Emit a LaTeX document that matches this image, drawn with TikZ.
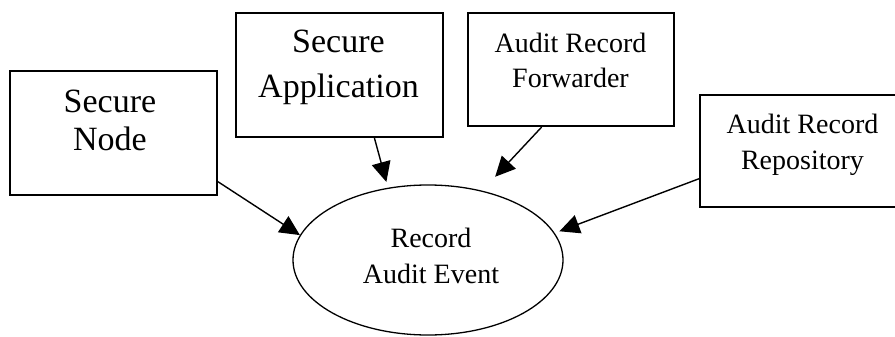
\documentclass[tikz,border=0pt]{standalone}
\usepackage{fontspec}
\newfontfamily\diagfont{Liberation Serif}
\usetikzlibrary{arrows.meta,shapes.geometric}
\begin{document}
\begin{tikzpicture}[x=1pt,y=-1pt,
  boxnode/.style={draw, line width=2pt, inner sep=0pt},
  bigtext/.style={align=center, inner sep=0pt, font=\diagfont\fontsize{34pt}{38pt}\selectfont},
  smalltext/.style={align=center, inner sep=0pt, font=\diagfont\fontsize{28pt}{35pt}\selectfont},
  conn/.style={line width=1.4pt, -{Triangle[length=20pt,width=19pt]}}]
\useasboundingbox (0,0) rectangle (895,337);
% boxes
\node[boxnode, minimum width=207pt, minimum height=124pt] (sn) at (113.5,133) {};
\node[boxnode, minimum width=207pt, minimum height=124pt] (sa) at (339.5,75) {};
\node[boxnode, minimum width=206pt, minimum height=113pt] (fw) at (571,69.5) {};
\node[boxnode, minimum width=205pt, minimum height=112pt] (rp) at (802.5,151) {};
\node[draw, ellipse, line width=1.3pt, inner sep=0pt, minimum width=270pt, minimum height=150pt] (re) at (428,260) {};
% texts
\node[bigtext] (snt) at (110,120.5) {Secure\\Node};
\node[bigtext, font=\diagfont\fontsize{34pt}{45pt}\selectfont] (sat) at (338.5,67.7) {Secure\\Application};
\node[smalltext] (fwt) at (570.5,60) {Audit Record\\Forwarder};
\node[smalltext, font=\diagfont\fontsize{28pt}{36pt}\selectfont] (rpt) at (802.5,144.5) {Audit Record\\Repository};
\node[smalltext, font=\diagfont\fontsize{28pt}{36pt}\selectfont] (ret) at (431,255.5) {Record\\Audit Event};
% connectors
\draw[conn] (sn.-25.8) -- (re.169.4);
\draw[conn, shorten >=6pt] (sa.-61.6) -- (re.119.4);
\draw[conn, shorten >=19pt] (fw.-117.2) -- (re.52);
\draw[conn, shorten >=5pt] (rp.-165.2) -- (re.12.7);
\end{tikzpicture}
\end{document}
